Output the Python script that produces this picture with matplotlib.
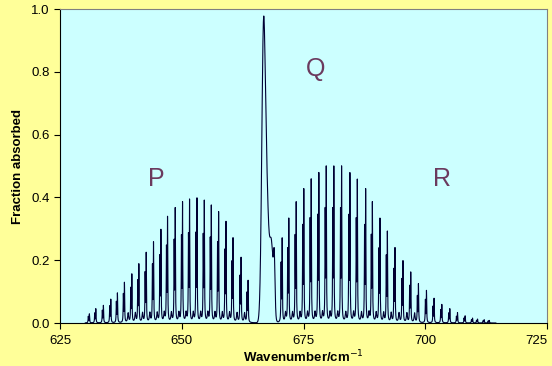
import matplotlib
matplotlib.use('Agg')
import matplotlib.pyplot as plt
import numpy as np

plt.rcParams['font.family'] = ['Liberation Sans', 'DejaVu Sans']

# P branch lines (wavenumber / cm-1, peak fraction absorbed)
p_pos = [631.03, 632.35, 633.91, 635.43, 636.79, 638.23, 639.75, 641.19, 642.70, 644.20,
         645.72, 647.08, 648.66, 650.16, 651.60, 653.13, 654.63, 656.07, 657.57, 659.09,
         660.53, 662.18, 663.62]
p_main = [0.028, 0.044, 0.054, 0.073, 0.092, 0.124, 0.149, 0.18, 0.215, 0.247,
          0.285, 0.325, 0.352, 0.37, 0.378, 0.382, 0.375, 0.36, 0.34, 0.31,
          0.26, 0.20, 0.13]
p_hot = [0.02, 0.03, 0.038, 0.051, 0.064, 0.087, 0.104, 0.126, 0.15, 0.173,
         0.20, 0.228, 0.246, 0.259, 0.265, 0.267, 0.263, 0.252, 0.238, 0.217,
         0.182, 0.14, 0.09]

# R branch lines
r_pos = [670.62, 671.98, 673.50, 675.06, 676.58, 678.15, 679.67, 681.23, 682.82, 684.53,
         686.05, 687.76, 689.14, 690.70, 692.22, 693.79, 695.43, 697.02, 698.60, 700.25,
         701.81, 703.40, 705.04, 706.62, 708.19, 709.71, 710.74, 712.10, 713.13]
r_main = [0.26, 0.32, 0.37, 0.41, 0.44, 0.46, 0.48, 0.48, 0.48, 0.46,
          0.44, 0.41, 0.37, 0.32, 0.28, 0.23, 0.19, 0.155, 0.12, 0.10,
          0.076, 0.057, 0.044, 0.032, 0.022, 0.015, 0.012, 0.010, 0.008]
r_hot = [0.18, 0.22, 0.26, 0.29, 0.31, 0.32, 0.34, 0.34, 0.34, 0.32,
         0.31, 0.29, 0.26, 0.22, 0.20, 0.16, 0.13, 0.11, 0.08, 0.07,
         0.05, 0.04, 0.03, 0.02, 0.015, 0.01, 0.008, 0.007, 0.006]

# Q branch components
q_pos = [666.78, 667.45, 668.4, 669.0]
q_height = [0.89, 0.36, 0.25, 0.15]
q_sigma = [0.36, 0.38, 0.4, 0.15]

# weak lines sitting in the valleys between the strong lines
weak_height = 0.03

line_hw = 0.05      # half width of the rotational lines
weak_hw = 0.12
hot_shift = -0.22   # hot band line sits just left of the main line

wn = np.arange(625, 725, 0.004)
absorb = np.zeros_like(wn)
for c, h, hh in zip(p_pos + r_pos, p_main + r_main, p_hot + r_hot):
    absorb += h / (1 + ((wn - c) / line_hw) ** 2)
    absorb += hh / (1 + ((wn - c - hot_shift) / line_hw) ** 2)
for pos, main in [(p_pos, p_main), (r_pos, r_main)]:
    for a, b, ha, hb in zip(pos[:-1], pos[1:], main[:-1], main[1:]):
        if min(ha, hb) > 0.1:
            absorb += weak_height / (1 + ((wn - (a + b) / 2) / weak_hw) ** 2)
for c, h, s in zip(q_pos, q_height, q_sigma):
    absorb += h * np.exp(-0.5 * ((wn - c) / s) ** 2)
# the trace is only recorded over the band
absorb[(wn < 630.2) | (wn > 714.5)] = np.nan

fig = plt.figure(figsize=(5.52, 3.66), dpi=100)
fig.patch.set_facecolor('#FFFF99')
ax = fig.add_axes([60 / 552, 43 / 366, 487 / 552, 314 / 366])
ax.set_facecolor('#CCFFFF')

ax.plot(wn, absorb, color='#000033', lw=0.8)

ax.set_xlim(625, 725)
ax.set_ylim(0, 1.0)
ax.set_xticks([625, 650, 675, 700, 725])
ax.set_yticks(np.arange(0, 1.01, 0.2))
ax.yaxis.set_major_formatter(matplotlib.ticker.FormatStrFormatter('%.1f'))
ax.tick_params(axis='both', direction='out', length=4, width=0.8, labelsize=9.5,
               colors='black')
ax.tick_params(axis='x', pad=5)
# like the original, the last label is pulled inside the chart
ax.get_xticklabels()[-1].set_horizontalalignment('right')

for side in ['top', 'right']:
    ax.spines[side].set_color('#808080')
    ax.spines[side].set_linewidth(0.8)
for side in ['left', 'bottom']:
    ax.spines[side].set_color('black')
    ax.spines[side].set_linewidth(0.8)

fig.text(303 / 552, 1 - 357 / 366, 'Wavenumber/cm$^{-1}$', fontsize=9.5,
         fontweight='bold', ha='center', va='center')
ax.set_ylabel('Fraction absorbed', fontsize=9.5, fontweight='bold', labelpad=5)

label_color = '#6B3A5E'
ax.text(644.8, 0.46, 'P', fontsize=18, color=label_color, ha='center', va='center')
ax.text(677.5, 0.81, 'Q', fontsize=18, color=label_color, ha='center', va='center')
ax.text(703.4, 0.46, 'R', fontsize=18, color=label_color, ha='center', va='center')

plt.savefig('out.png', dpi=100, facecolor=fig.get_facecolor())
